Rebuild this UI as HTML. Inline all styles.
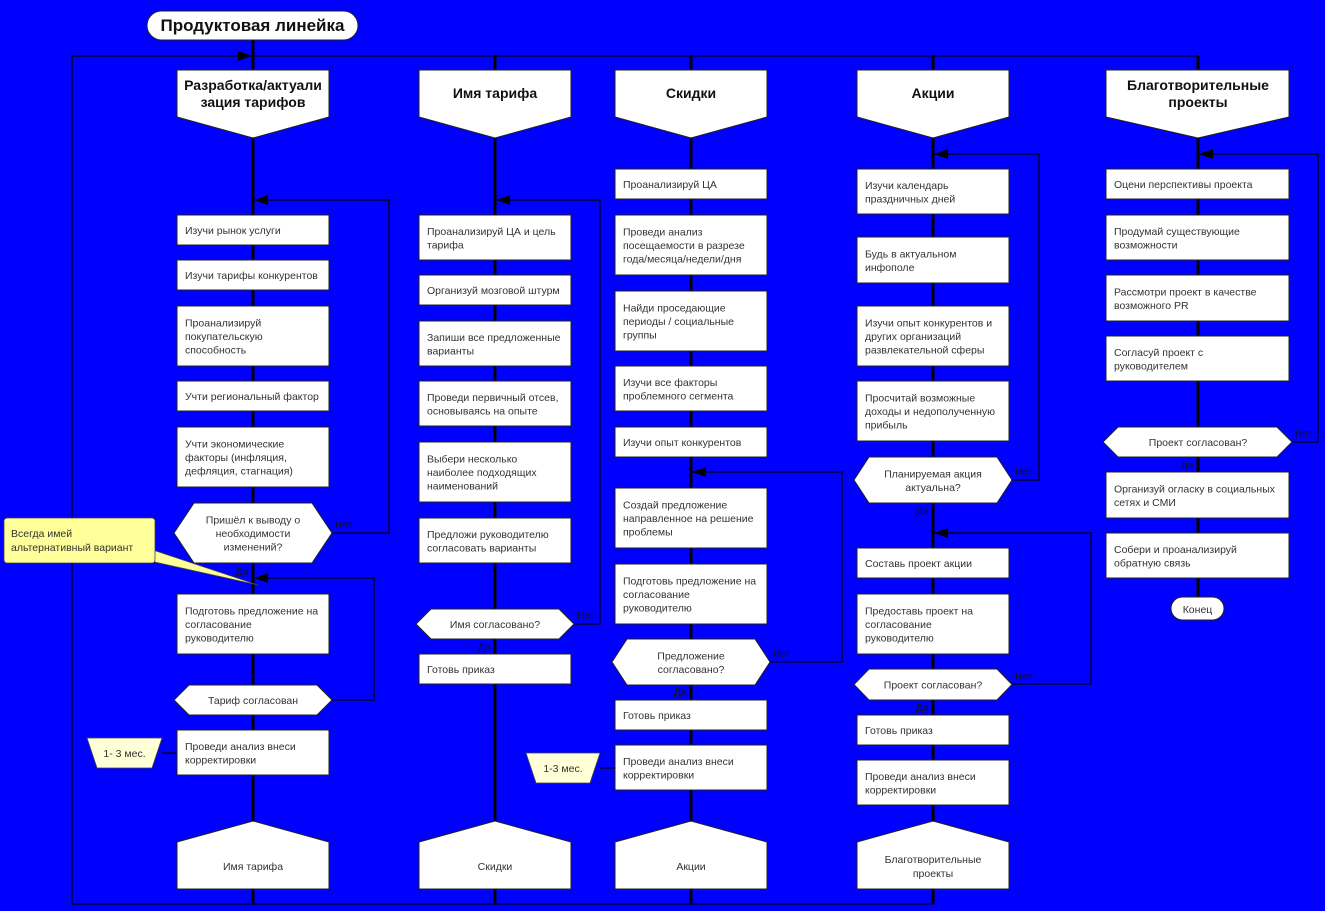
<!DOCTYPE html>
<html><head><meta charset="utf-8"><style>
html,body{margin:0;padding:0;background:#0000ff;}
svg{display:block;font-family:"Liberation Sans",sans-serif;}
.b{fill:#fff;stroke:#222;stroke-width:1;}
.t{font-size:10.5px;fill:#333;}
.h{font-size:14px;font-weight:bold;fill:#111;text-anchor:middle;}
.c{text-anchor:middle;}
.l{font-size:10px;fill:#111;}
.th{stroke:#000;stroke-width:3;fill:none;}
.tn{stroke:#000;stroke-width:1.2;fill:none;}
</style></head><body>
<svg width="1325" height="911" viewBox="0 0 1325 911" xmlns="http://www.w3.org/2000/svg">
<rect width="1325" height="911" fill="#0000ff"/>
<path class="tn" d="M72,56 H1198 M72,56 V904 H933"/>
<path class="th" d="M253,40 V904 M495,56 V904 M691,56 V904 M933,56 V904 M1198,56 V597"/>
<path class="tn" d="M332,533 H389 V200 H253 M332,700 H374 V578 H253 M574,624 H600 V200 H495 M770,662 H842 V472 H691 M1012,480 H1039 V154 H933 M1012,684 H1091 V533 H933 M1292,442 H1318 V154 H1198 M162,753 H177 M600,768 H615"/>
<g fill="#000">
<polygon points="238,51 252,56 238,61"/>
<polygon points="254,200 268,195 268,205"/>
<polygon points="254,578 268,573 268,583"/>
<polygon points="496,200 510,195 510,205"/>
<polygon points="692,472 706,467 706,477"/>
<polygon points="934,154 948,149 948,159"/>
<polygon points="934,533 948,528 948,538"/>
<polygon points="1199,154 1213,149 1213,159"/>
</g>
<rect x="147" y="11" width="211" height="29" rx="14.5" class="b"/>
<text x="252.5" y="31" font-size="17" font-weight="bold" text-anchor="middle" fill="#111">Продуктовая линейка</text>
<polygon class="b" points="177,70 329,70 329,117 253,138 177,117"/>
<text class="h" x="253" y="90">Разработка/актуали</text><text class="h" x="253" y="107">зация тарифов</text>
<polygon class="b" points="419,70 571,70 571,117 495,138 419,117"/>
<text class="h" x="495" y="98">Имя тарифа</text>
<polygon class="b" points="615,70 767,70 767,117 691,138 615,117"/>
<text class="h" x="691" y="98">Скидки</text>
<polygon class="b" points="857,70 1009,70 1009,117 933,138 857,117"/>
<text class="h" x="933" y="98">Акции</text>
<polygon class="b" points="1106,70 1289,70 1289,117 1198,138 1106,117"/>
<text class="h" x="1198" y="90">Благотворительные</text><text class="h" x="1198" y="107">проекты</text>
<polygon class="b" points="177,842 253,821 329,842 329,889 177,889"/>
<text class="t c" x="253" y="870">Имя тарифа</text>
<polygon class="b" points="419,842 495,821 571,842 571,889 419,889"/>
<text class="t c" x="495" y="870">Скидки</text>
<polygon class="b" points="615,842 691,821 767,842 767,889 615,889"/>
<text class="t c" x="691" y="870">Акции</text>
<polygon class="b" points="857,842 933,821 1009,842 1009,889 857,889"/>
<text class="t c" x="933" y="863">Благотворительные</text><text class="t c" x="933" y="877">проекты</text>

<rect class="b" x="177" y="215" width="152" height="30"/><text class="t" x="185" y="234">Изучи рынок услуги</text>
<rect class="b" x="177" y="260" width="152" height="30"/><text class="t" x="185" y="279">Изучи тарифы конкурентов</text>
<rect class="b" x="177" y="306" width="152" height="60"/><text class="t" x="185" y="326.5">Проанализируй</text><text class="t" x="185" y="340">покупательскую</text><text class="t" x="185" y="353.5">способность</text>
<rect class="b" x="177" y="381" width="152" height="30"/><text class="t" x="185" y="400">Учти региональный фактор</text>
<rect class="b" x="177" y="427" width="152" height="60"/><text class="t" x="185" y="447.5">Учти экономические</text><text class="t" x="185" y="461">факторы (инфляция,</text><text class="t" x="185" y="474.5">дефляция, стагнация)</text>
<polygon class="b" points="174,533 194,503 312,503 332,533 312,563 194,563"/>
<text class="t c" x="253" y="523.5">Пришёл к выводу о</text><text class="t c" x="253" y="537">необходимости</text><text class="t c" x="253" y="550.5">изменений?</text>
<rect class="b" x="177" y="594" width="152" height="60"/><text class="t" x="185" y="614.5">Подготовь предложение на</text><text class="t" x="185" y="628">согласование</text><text class="t" x="185" y="641.5">руководителю</text>
<polygon class="b" points="174,700 189,685 317,685 332,700 317,715 189,715"/>
<text class="t c" x="253" y="704">Тариф согласован</text>
<rect class="b" x="177" y="730" width="152" height="45"/><text class="t" x="185" y="749.75">Проведи анализ внеси</text><text class="t" x="185" y="763.25">корректировки</text>

<rect class="b" x="419" y="215" width="152" height="45"/><text class="t" x="427" y="234.75">Проанализируй ЦА и цель</text><text class="t" x="427" y="248.25">тарифа</text>
<rect class="b" x="419" y="275" width="152" height="30"/><text class="t" x="427" y="294">Организуй мозговой штурм</text>
<rect class="b" x="419" y="321" width="152" height="45"/><text class="t" x="427" y="340.75">Запиши все предложенные</text><text class="t" x="427" y="354.25">варианты</text>
<rect class="b" x="419" y="381" width="152" height="45"/><text class="t" x="427" y="400.75">Проведи первичный отсев,</text><text class="t" x="427" y="414.25">основываясь на опыте</text>
<rect class="b" x="419" y="442" width="152" height="60"/><text class="t" x="427" y="462.5">Выбери несколько</text><text class="t" x="427" y="476">наиболее подходящих</text><text class="t" x="427" y="489.5">наименований</text>
<rect class="b" x="419" y="518" width="152" height="45"/><text class="t" x="427" y="537.75">Предложи руководителю</text><text class="t" x="427" y="551.25">согласовать варианты</text>
<polygon class="b" points="416,624 431,609 559,609 574,624 559,639 431,639"/>
<text class="t c" x="495" y="628">Имя согласовано?</text>
<rect class="b" x="419" y="654" width="152" height="30"/><text class="t" x="427" y="673">Готовь приказ</text>

<rect class="b" x="615" y="169" width="152" height="30"/><text class="t" x="623" y="188">Проанализируй ЦА</text>
<rect class="b" x="615" y="215" width="152" height="60"/><text class="t" x="623" y="235.5">Проведи анализ</text><text class="t" x="623" y="249">посещаемости в разрезе</text><text class="t" x="623" y="262.5">года/месяца/недели/дня</text>
<rect class="b" x="615" y="291" width="152" height="60"/><text class="t" x="623" y="311.5">Найди проседающие</text><text class="t" x="623" y="325">периоды / социальные</text><text class="t" x="623" y="338.5">группы</text>
<rect class="b" x="615" y="366" width="152" height="45"/><text class="t" x="623" y="385.75">Изучи все факторы</text><text class="t" x="623" y="399.25">проблемного сегмента</text>
<rect class="b" x="615" y="427" width="152" height="30"/><text class="t" x="623" y="446">Изучи опыт конкурентов</text>
<rect class="b" x="615" y="488" width="152" height="60"/><text class="t" x="623" y="508.5">Создай предложение</text><text class="t" x="623" y="522">направленное на решение</text><text class="t" x="623" y="535.5">проблемы</text>
<rect class="b" x="615" y="564" width="152" height="60"/><text class="t" x="623" y="584.5">Подготовь предложение на</text><text class="t" x="623" y="598">согласование</text><text class="t" x="623" y="611.5">руководителю</text>
<polygon class="b" points="612,662 627,639 755,639 770,662 755,685 627,685"/>
<text class="t c" x="691" y="659.25">Предложение</text><text class="t c" x="691" y="672.75">согласовано?</text>
<rect class="b" x="615" y="700" width="152" height="30"/><text class="t" x="623" y="719">Готовь приказ</text>
<rect class="b" x="615" y="745" width="152" height="45"/><text class="t" x="623" y="764.75">Проведи анализ внеси</text><text class="t" x="623" y="778.25">корректировки</text>

<rect class="b" x="857" y="169" width="152" height="45"/><text class="t" x="865" y="188.75">Изучи календарь</text><text class="t" x="865" y="202.25">праздничных дней</text>
<rect class="b" x="857" y="237" width="152" height="46"/><text class="t" x="865" y="257.25">Будь в актуальном</text><text class="t" x="865" y="270.75">инфополе</text>
<rect class="b" x="857" y="306" width="152" height="60"/><text class="t" x="865" y="326.5">Изучи опыт конкурентов и</text><text class="t" x="865" y="340">других организаций</text><text class="t" x="865" y="353.5">развлекательной сферы</text>
<rect class="b" x="857" y="381" width="152" height="60"/><text class="t" x="865" y="401.5">Просчитай возможные</text><text class="t" x="865" y="415">доходы и недополученную</text><text class="t" x="865" y="428.5">прибыль</text>
<polygon class="b" points="854,480 869,457 997,457 1012,480 997,503 869,503"/>
<text class="t c" x="933" y="477.25">Планируемая акция</text><text class="t c" x="933" y="490.75">актуальна?</text>
<rect class="b" x="857" y="548" width="152" height="30"/><text class="t" x="865" y="567">Составь проект акции</text>
<rect class="b" x="857" y="594" width="152" height="60"/><text class="t" x="865" y="614.5">Предоставь проект на</text><text class="t" x="865" y="628">согласование</text><text class="t" x="865" y="641.5">руководителю</text>
<polygon class="b" points="854,684.5 869,669 997,669 1012,684.5 997,700 869,700"/>
<text class="t c" x="933" y="688.5">Проект согласован?</text>
<rect class="b" x="857" y="715" width="152" height="30"/><text class="t" x="865" y="734">Готовь приказ</text>
<rect class="b" x="857" y="760" width="152" height="45"/><text class="t" x="865" y="779.75">Проведи анализ внеси</text><text class="t" x="865" y="793.25">корректировки</text>

<rect class="b" x="1106" y="169" width="183" height="30"/><text class="t" x="1114" y="188">Оцени перспективы проекта</text>
<rect class="b" x="1106" y="215" width="183" height="45"/><text class="t" x="1114" y="234.75">Продумай существующие</text><text class="t" x="1114" y="248.25">возможности</text>
<rect class="b" x="1106" y="275" width="183" height="46"/><text class="t" x="1114" y="295.25">Рассмотри проект в качестве</text><text class="t" x="1114" y="308.75">возможного PR</text>
<rect class="b" x="1106" y="336" width="183" height="45"/><text class="t" x="1114" y="355.75">Согласуй проект с</text><text class="t" x="1114" y="369.25">руководителем</text>
<polygon class="b" points="1103,442 1118,427 1277,427 1292,442 1277,457 1118,457"/>
<text class="t c" x="1198" y="446">Проект согласован?</text>
<rect class="b" x="1106" y="472" width="183" height="46"/><text class="t" x="1114" y="492.25">Организуй огласку в социальных</text><text class="t" x="1114" y="505.75">сетях и СМИ</text>
<rect class="b" x="1106" y="533" width="183" height="45"/><text class="t" x="1114" y="552.75">Собери и проанализируй</text><text class="t" x="1114" y="566.25">обратную связь</text>
<rect class="b" x="1171" y="597" width="53" height="23" rx="11.5"/><text class="t c" x="1197.5" y="613">Конец</text>

<g class="l">
<text x="335" y="528">Нет</text><text x="577" y="619">Нет</text><text x="773" y="657">Нет</text><text x="1015" y="475">Нет</text><text x="1015" y="680">Нет</text><text x="1295" y="437">Нет</text>
<text x="236" y="575">Да</text><text x="478" y="650">Да</text><text x="674" y="695">Да</text><text x="916" y="514">Да</text><text x="916" y="711">Да</text><text x="1181" y="468">Да</text>
</g>

<polygon points="150,549 258,585 150,561" fill="#ffff99" stroke="#444" stroke-width="0.8"/>
<rect x="4" y="518" width="151" height="45" rx="3" fill="#ffff99" stroke="#444" stroke-width="0.8"/>
<text class="t" x="11" y="537">Всегда имей</text><text class="t" x="11" y="551">альтернативный вариант</text>
<polygon points="87,738 162,738 152,768 97,768" fill="#ffffd8" stroke="#444" stroke-width="0.8"/>
<text class="t c" x="124.5" y="757">1- 3 мес.</text>
<polygon points="526,753 600,753 590,783 536,783" fill="#ffffd8" stroke="#444" stroke-width="0.8"/>
<text class="t c" x="563" y="772">1-3 мес.</text>
</svg>
</body></html>
